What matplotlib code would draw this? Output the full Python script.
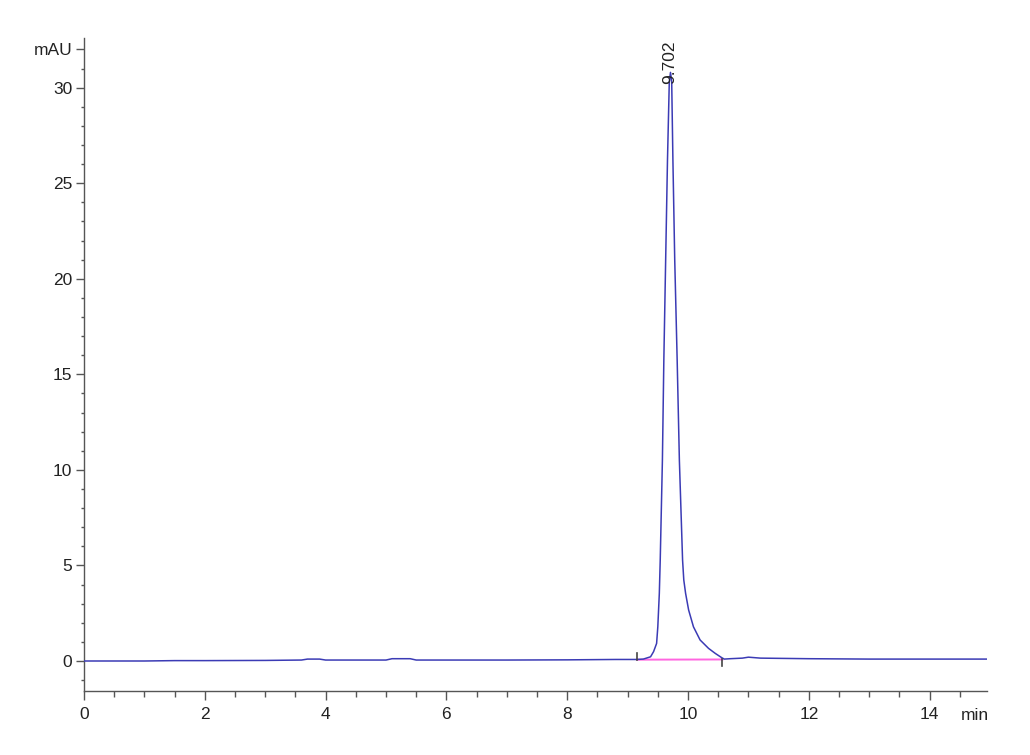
import matplotlib
matplotlib.use("Agg")
import matplotlib.pyplot as plt
from matplotlib.ticker import MultipleLocator

plt.rcParams['font.family'] = ['Liberation Sans', 'DejaVu Sans']

# trace (time in min, signal in mAU)
time = [0.0, 0.5, 1.0, 1.5, 2.0, 3.0, 3.6, 3.7, 3.9, 4.0, 5.0, 5.1, 5.4, 5.5,
        6.0, 7.0, 8.0, 8.8, 9.0, 9.15, 9.26, 9.38, 9.43, 9.48, 9.50, 9.525,
        9.54, 9.576, 9.60, 9.63, 9.66, 9.69, 9.71, 9.73, 9.75, 9.78, 9.82,
        9.857, 9.91, 9.93, 9.96, 10.01, 10.09, 10.20, 10.34, 10.45, 10.56,
        10.6, 10.7, 10.9, 11.0, 11.2, 12.0, 13.0, 14.0, 14.95]
signal = [0.0, 0.0, 0.0, 0.02, 0.02, 0.03, 0.05, 0.1, 0.1, 0.05, 0.05, 0.12,
          0.12, 0.05, 0.05, 0.05, 0.06, 0.08, 0.08, 0.08, 0.1, 0.22, 0.49,
          0.92, 1.79, 3.54, 5.28, 10.5, 15.8, 21.0, 26.2, 30.3, 30.8, 30.3,
          26.2, 21.0, 15.8, 10.5, 5.28, 4.24, 3.54, 2.67, 1.79, 1.1, 0.66,
          0.4, 0.17, 0.1, 0.12, 0.15, 0.2, 0.15, 0.12, 0.1, 0.1, 0.1]

peak_rt = 9.702
peak_label = "9.702"
base_start = (9.16, 0.07)
base_end = (10.57, 0.08)
y_ticks = [0, 5, 10, 15, 20, 25, 30, 32]
y_labels = ["0", "5", "10", "15", "20", "25", "30", "mAU"]

fig = plt.figure(figsize=(10.30, 7.55), dpi=100)
ax = fig.add_axes([84/1030, 64/755, (987-84)/1030, (691-38)/755])

ax.plot(time, signal, color="#3b3bb5", linewidth=1.1, zorder=3)
ax.plot([base_start[0], base_end[0]], [base_start[1], base_end[1]],
        color="#ff66e0", linewidth=1.4, zorder=2)
# integration start / end marks
ax.plot([base_start[0], base_start[0]], [base_start[1], base_start[1] + 0.33],
        color="#444444", linewidth=1.2, zorder=4)
ax.plot([base_end[0], base_end[0]], [base_end[1], base_end[1] - 0.33],
        color="#444444", linewidth=1.2, zorder=4)

ax.text(peak_rt, 30.2, peak_label, rotation=90, ha="center", va="bottom",
        fontsize=12.5, color="#222222")

ax.set_xlim(0, 14.95)
ax.set_ylim(-1.57, 32.6)
ax.spines['top'].set_visible(False)
ax.spines['right'].set_visible(False)
for s in ['left', 'bottom']:
    ax.spines[s].set_color("#555555")
    ax.spines[s].set_linewidth(1.0)

ax.xaxis.set_major_locator(MultipleLocator(2))
ax.xaxis.set_minor_locator(MultipleLocator(0.5))
ax.yaxis.set_minor_locator(MultipleLocator(1))
ax.set_yticks(y_ticks)
ax.set_yticklabels(y_labels)

ax.tick_params(axis='x', which='major', length=6.5, width=1, color="#555555",
               labelsize=12.5, pad=5, labelcolor="#222222")
ax.tick_params(axis='x', which='minor', length=4, width=1, color="#555555")
ax.tick_params(axis='y', which='major', length=5.5, width=1, color="#555555",
               labelsize=12.5, pad=3, labelcolor="#222222")
ax.tick_params(axis='y', which='minor', length=2.5, width=1, color="#555555")

ax.text(14.75, -2.85, "min", ha="center", va="center", fontsize=12.5,
        color="#222222", clip_on=False)

fig.savefig("out.png", dpi=100, facecolor="white")
